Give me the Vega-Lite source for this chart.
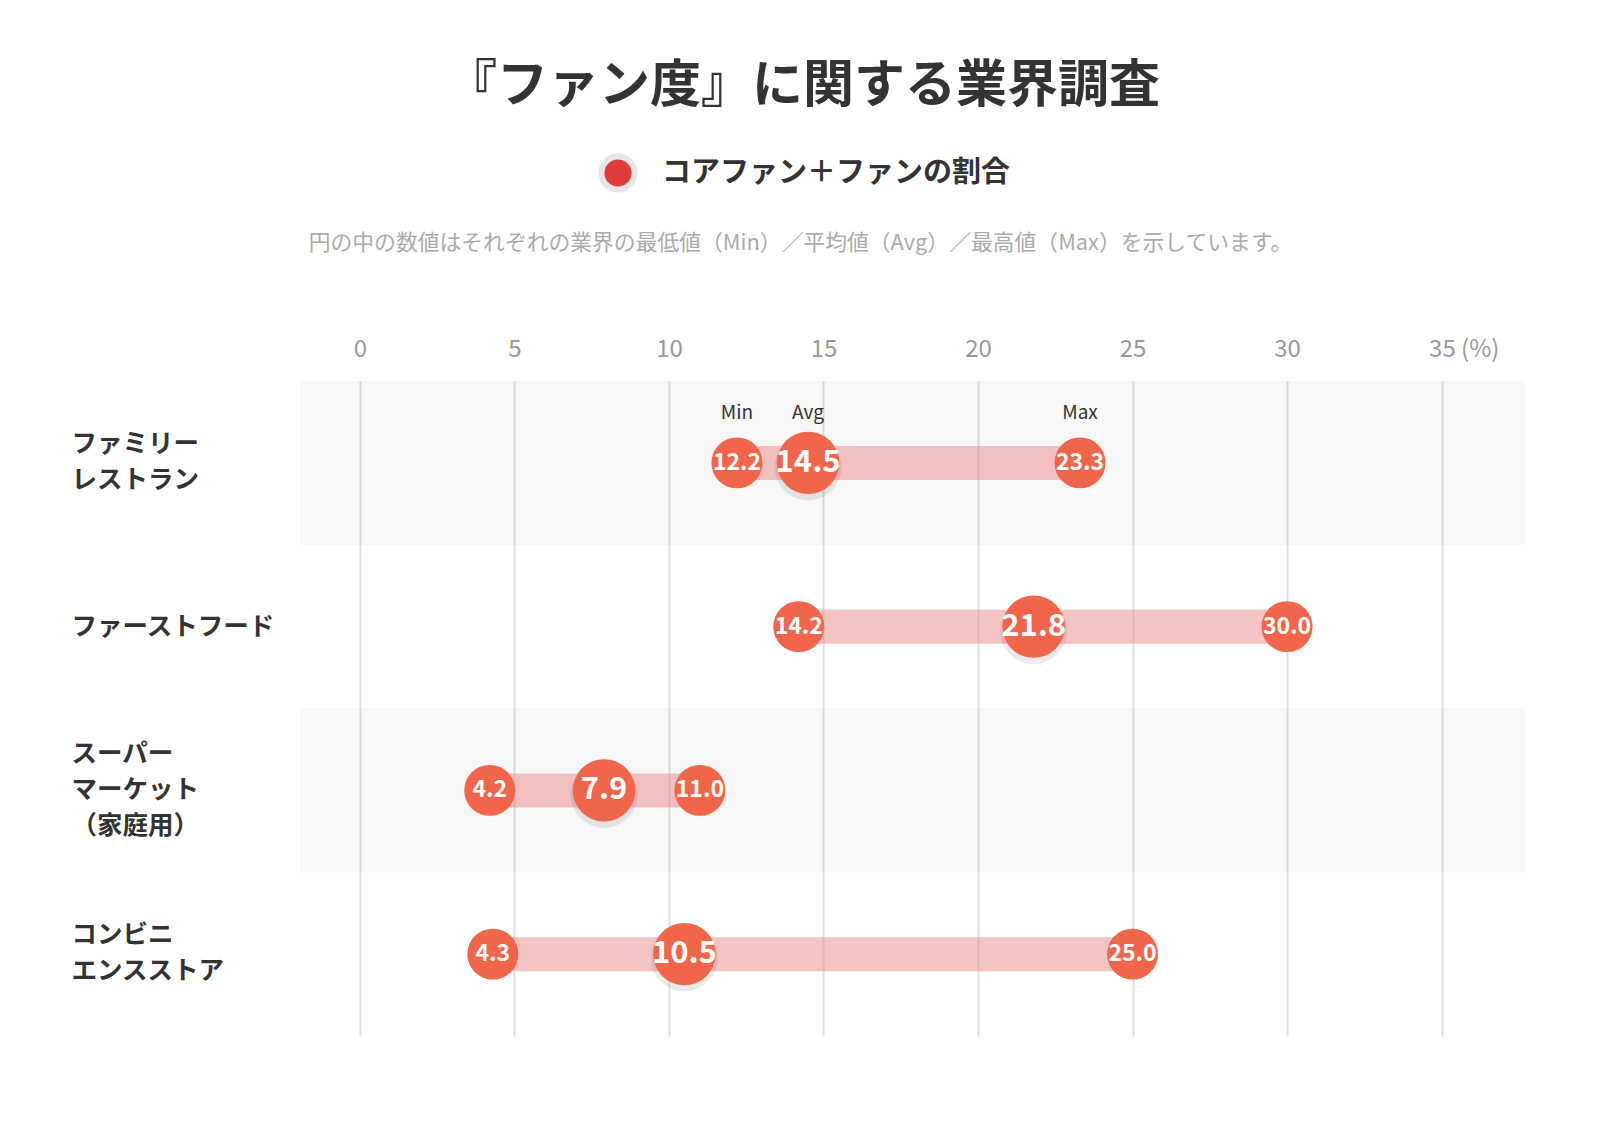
{
  "$schema": "https://vega.github.io/schema/vega-lite/v6.json",
  "width": 1225,
  "height": 655,
  "padding": {"left": 71, "top": 61, "right": 75, "bottom": 80},
  "background": "#ffffff",
  "config": {"font": "Noto Sans CJK JP", "view": {"stroke": null}},
  "title": {
    "text": "『ファン度』に関する業界調査",
    "fontSize": 51,
    "fontWeight": "bold",
    "color": "#333333",
    "anchor": "middle",
    "frame": "bounds",
    "dx": 5,
    "offset": 40
  },
  "datasets": {
    "stats": [
      {"industry": "ファミリー\nレストラン", "stat": "Min", "value": 12.2},
      {"industry": "ファミリー\nレストラン", "stat": "Avg", "value": 14.5},
      {"industry": "ファミリー\nレストラン", "stat": "Max", "value": 23.3},
      {"industry": "ファーストフード", "stat": "Min", "value": 14.2},
      {"industry": "ファーストフード", "stat": "Avg", "value": 21.8},
      {"industry": "ファーストフード", "stat": "Max", "value": 30.0},
      {"industry": "スーパー\nマーケット\n（家庭用）", "stat": "Min", "value": 4.2},
      {"industry": "スーパー\nマーケット\n（家庭用）", "stat": "Avg", "value": 7.9},
      {"industry": "スーパー\nマーケット\n（家庭用）", "stat": "Max", "value": 11.0},
      {"industry": "コンビニ\nエンスストア", "stat": "Min", "value": 4.3},
      {"industry": "コンビニ\nエンスストア", "stat": "Avg", "value": 10.5},
      {"industry": "コンビニ\nエンスストア", "stat": "Max", "value": 25.0}
    ],
    "bands": [
      {"industry": "ファミリー\nレストラン"},
      {"industry": "スーパー\nマーケット\n（家庭用）"}
    ]
  },
  "encoding": {
    "y": {
      "field": "industry",
      "type": "nominal",
      "sort": null,
      "scale": {
        "domain": ["ファミリー\nレストラン", "ファーストフード", "スーパー\nマーケット\n（家庭用）", "コンビニ\nエンスストア"],
        "paddingInner": 0,
        "paddingOuter": 0
      },
      "axis": {
        "title": null,
        "domain": false,
        "ticks": false,
        "grid": false,
        "labelAlign": "left",
        "labelBaseline": "middle",
        "labelPadding": 229,
        "labelFontSize": 25.5,
        "labelFontWeight": "bold",
        "labelColor": "#333333",
        "labelLineHeight": 36,
        "labelLimit": 400,
        "labelOffset": {
          "condition": [
            {"test": "length(split(datum.label, '\\n')) == 3", "value": -36},
            {"test": "length(split(datum.label, '\\n')) == 2", "value": -19}
          ],
          "value": 0
        },
        "labelExpr": "split(datum.label, '\\n')"
      }
    }
  },
  "layer": [
    {
      "data": {"name": "bands"},
      "mark": {"type": "rect", "fill": "#000000", "opacity": 0.03},
      "encoding": {}
    },
    {
      "data": {"name": "stats"},
      "mark": {"type": "rule", "strokeWidth": 34, "color": "#e98a8c", "opacity": 0.5, "strokeCap": "butt"},
      "encoding": {
        "x": {
          "aggregate": "min",
          "field": "value",
          "type": "quantitative",
          "scale": {"domain": [-1.94, 37.7], "nice": false, "zero": false},
          "axis": {
            "orient": "top",
            "values": [0, 5, 10, 15, 20, 25, 30, 35],
            "domain": false,
            "ticks": false,
            "tickSize": 0,
            "labelPadding": 20,
            "labelFontSize": 24,
            "labelColor": "#999999",
            "labelFontWeight": "normal",
            "grid": true,
            "gridColor": "#e0e0e0",
            "gridWidth": 2,
            "labelExpr": "datum.value == 35 ? '35 (%)' : datum.label",
            "labelAlign": {"condition": {"test": "datum.value == 35", "value": "left"}, "value": "center"},
            "labelOffset": {"condition": {"test": "datum.value == 35", "value": -13}, "value": 0},
            "title": "円の中の数値はそれぞれの業界の最低値（Min）／平均値（Avg）／最高値（Max）を示しています。",
            "titleFontSize": 21.8,
            "titleColor": "#aaaaaa",
            "titleFontWeight": "normal",
            "titleX": 500,
            "titleY": -139,
            "titleAlign": "center",
            "titleBaseline": "middle"
          }
        },
        "x2": {"aggregate": "max", "field": "value"}
      }
    },
    {
      "data": {"name": "stats"},
      "transform": [{"filter": {"field": "stat", "equal": "Avg"}}],
      "mark": {"type": "circle", "fill": "#000000", "opacity": 0.08, "yOffset": 4, "size": 4500},
      "encoding": {"x": {"field": "value", "type": "quantitative"}}
    },
    {
      "data": {"name": "stats"},
      "mark": {"type": "circle", "opacity": 1, "size": 0},
      "encoding": {
        "x": {"field": "value", "type": "quantitative"},
        "color": {
          "datum": "コアファン＋ファンの割合",
          "type": "nominal",
          "scale": {"range": ["#e23b3b"]},
          "legend": {
            "orient": "none",
            "legendX": 298,
            "legendY": -228,
            "title": null,
            "padding": 0,
            "labelFontSize": 29,
            "labelFontWeight": "bold",
            "labelColor": "#333333",
            "labelOffset": 24,
            "labelLimit": 600,
            "symbolType": "circle",
            "symbolSize": 1100,
            "symbolOpacity": 1,
            "symbolStrokeColor": "#e6e6e6",
            "symbolStrokeWidth": 6
          }
        }
      }
    },
    {
      "data": {"name": "stats"},
      "mark": {"type": "circle", "opacity": 1, "fill": "#f1664a"},
      "encoding": {
        "x": {"field": "value", "type": "quantitative"},
        "size": {"condition": {"test": "datum.stat == 'Avg'", "value": 3900}, "value": 2600}
      }
    },
    {
      "data": {"name": "stats"},
      "mark": {"type": "text", "color": "#ffffff", "fontWeight": "bold", "baseline": "middle", "align": "center"},
      "encoding": {
        "x": {"field": "value", "type": "quantitative"},
        "text": {"field": "value", "type": "quantitative", "format": ".1f"},
        "size": {"condition": {"test": "datum.stat == 'Avg'", "value": 31}, "value": 23}
      }
    },
    {
      "data": {"name": "stats"},
      "transform": [{"filter": {"field": "industry", "equal": "ファミリー\nレストラン"}}],
      "mark": {"type": "text", "color": "#333333", "fontSize": 19, "dy": -50, "baseline": "middle", "align": "center"},
      "encoding": {
        "x": {"field": "value", "type": "quantitative"},
        "text": {"field": "stat", "type": "nominal"}
      }
    }
  ]
}
